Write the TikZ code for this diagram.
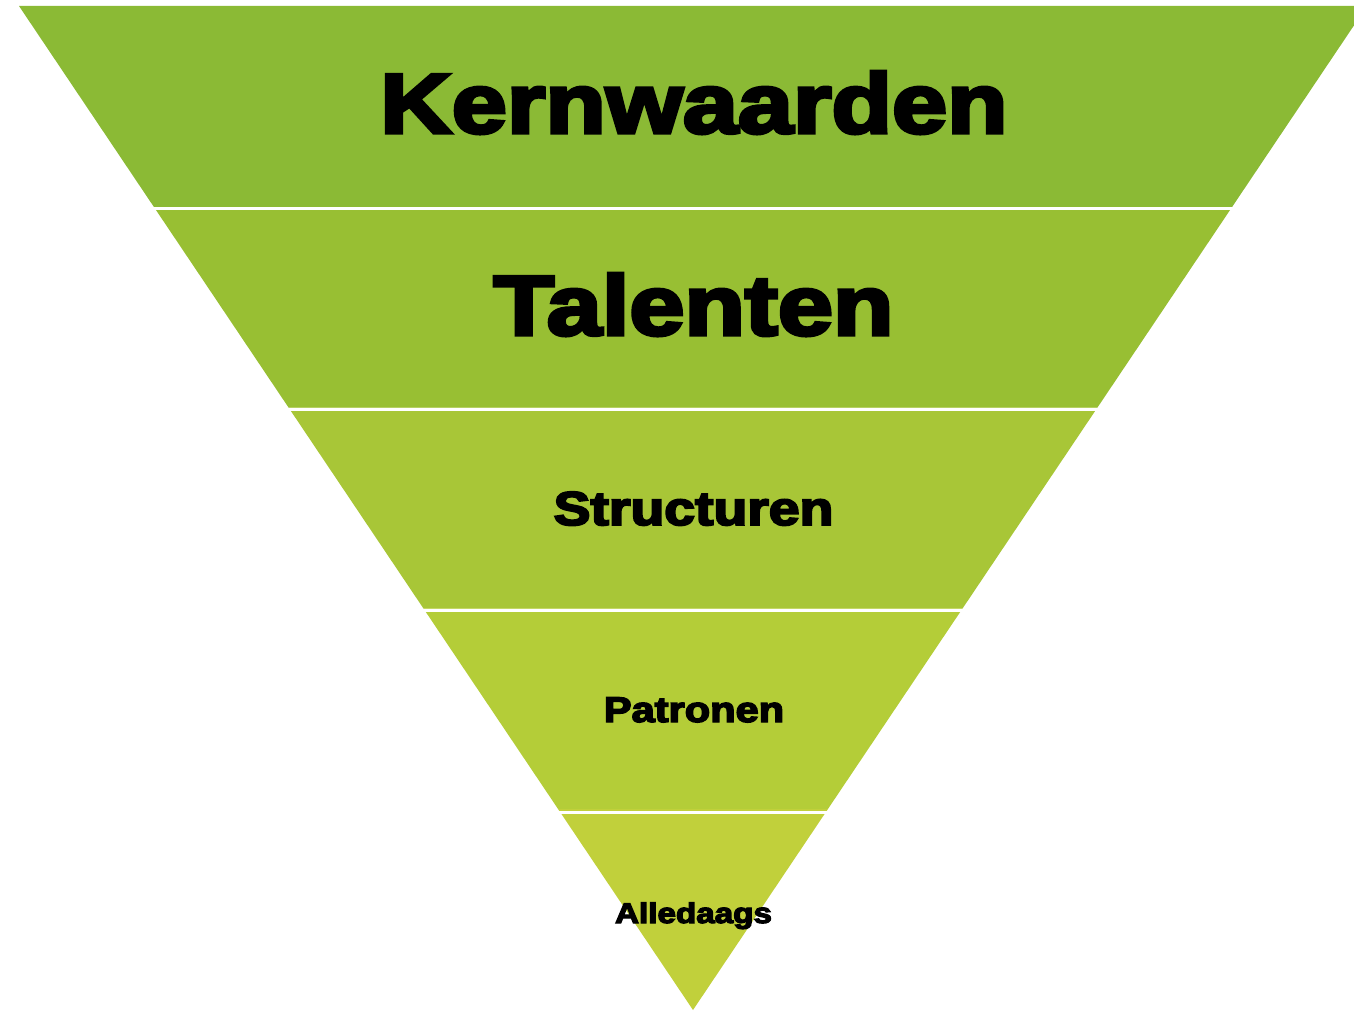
\documentclass[tikz,border=0pt]{standalone}
\usepackage{fontspec}
\usetikzlibrary{calc}
\newfontfamily\heavy{Liberation Sans}[BoldFont={Liberation Sans Bold},BoldFeatures={FakeBold=4}]
\definecolor{bandA}{HTML}{8BBA35}
\definecolor{bandB}{HTML}{98BF33}
\definecolor{bandC}{HTML}{A8C637}
\definecolor{bandD}{HTML}{B4CD38}
\definecolor{bandE}{HTML}{C1D03B}
\tikzset{
  label/.style={inner sep=0pt, anchor=base, text=black},
  sep/.style={draw=white, line width=3pt}
}
\newcommand{\lbl}[2]{{\heavy\bfseries\fontsize{#1}{#1}\selectfont\scalebox{1.165}[1]{#2}}}
\begin{document}
\begin{tikzpicture}[x=1pt,y=-1pt]
\useasboundingbox (0,0) rectangle (1354,1011);
% triangle geometry: top y=6 from x=19 to x=1367, apex (693,1010)
\coordinate (TL) at (19,6);
\coordinate (TR) at (1367,6);
\coordinate (AP) at (693,1010);
\begin{scope}
\clip (0,0) rectangle (1354,1011);
\fill[bandA] (TL) -- (TR) -- ($(TR)!0.2!(AP)$) -- ($(TL)!0.2!(AP)$) -- cycle;
\fill[bandB] ($(TL)!0.2!(AP)$) -- ($(TR)!0.2!(AP)$) -- ($(TR)!0.4!(AP)$) -- ($(TL)!0.4!(AP)$) -- cycle;
\fill[bandC] ($(TL)!0.4!(AP)$) -- ($(TR)!0.4!(AP)$) -- ($(TR)!0.6!(AP)$) -- ($(TL)!0.6!(AP)$) -- cycle;
\fill[bandD] ($(TL)!0.6!(AP)$) -- ($(TR)!0.6!(AP)$) -- ($(TR)!0.8!(AP)$) -- ($(TL)!0.8!(AP)$) -- cycle;
\fill[bandE] ($(TL)!0.8!(AP)$) -- ($(TR)!0.8!(AP)$) -- (AP) -- cycle;
\foreach \f in {0.2015,0.4015,0.6025,0.8035}
  \draw[sep] ($(TL)!\f!(AP)+(-5,0)$) -- ($(TR)!\f!(AP)+(5,0)$);
\end{scope}
\node[label] (k) at (694,133) {\lbl{85}{Kernwaarden}};
\node[label] (t) at (693.5,335) {\lbl{85}{Talenten}};
\node[label] (s) at (693.5,525) {\lbl{47.5}{Structuren}};
\node[label] (p) at (694,722) {\lbl{35.7}{Patronen}};
\node[label] (a) at (693.5,923) {\lbl{28.5}{Alledaags}};
\end{tikzpicture}
\end{document}
